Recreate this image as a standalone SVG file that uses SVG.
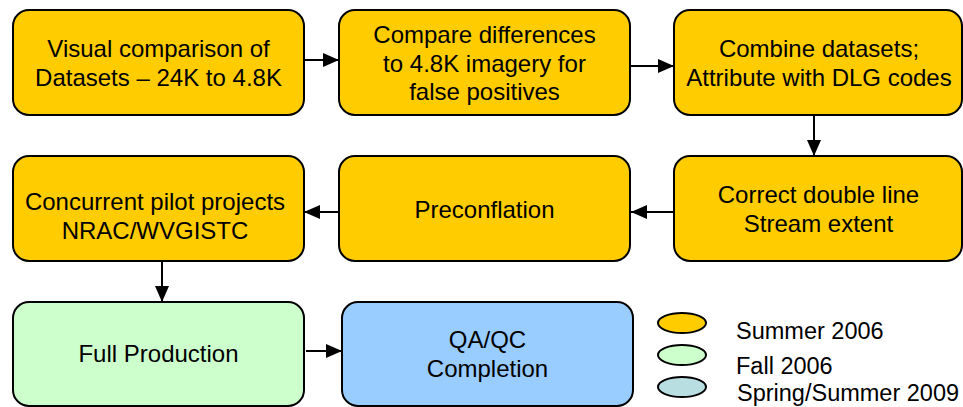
<svg xmlns="http://www.w3.org/2000/svg" width="963" height="407" viewBox="0 0 963 407">
<style>
.box{stroke:#000;stroke-width:2}
.o{fill:#FFCC00}
.g{fill:#CCFFCC}
.b{fill:#99CCFF}
.t{fill:#B8DEE2}
text{font-family:"Liberation Sans",Arial,sans-serif;font-size:24px;fill:#000}
.c{text-anchor:middle}
.lg{font-size:23.5px}
.edge{stroke:#000;stroke-width:2;fill:none;marker-end:url(#ah)}
</style>
<defs>
<marker id="ah" markerUnits="userSpaceOnUse" markerWidth="16" markerHeight="14" refX="16" refY="7" orient="auto">
<path d="M0,0 L16,7 L0,14 Z" fill="#000"/>
</marker>
</defs>
<rect width="963" height="407" fill="#fff"/>
<g id="connectors">
<line class="edge" x1="304" y1="60" x2="339" y2="60"/>
<line class="edge" x1="630" y1="66" x2="674" y2="66"/>
<line class="edge" x1="814" y1="115" x2="814" y2="156"/>
<line class="edge" x1="674" y1="212" x2="631" y2="212"/>
<line class="edge" x1="339" y1="212" x2="304" y2="212"/>
<line class="edge" x1="162" y1="261" x2="162" y2="302"/>
<line class="edge" x1="306" y1="351" x2="342" y2="351"/>
</g>
<g id="n1">
<rect class="box o" x="13" y="10" width="291" height="105" rx="16"/>
<text class="c" x="158.5" y="57">Visual comparison of</text>
<text class="c" x="158.5" y="86">Datasets – 24K to 4.8K</text>
</g>
<g id="n2">
<rect class="box o" x="339" y="10" width="291" height="105" rx="16"/>
<text class="c" x="484.5" y="43">Compare differences</text>
<text class="c" x="484.5" y="72">to 4.8K imagery for</text>
<text class="c" x="484.5" y="100">false positives</text>
</g>
<g id="n3">
<rect class="box o" x="674" y="10" width="288" height="105" rx="16"/>
<text class="c" x="819" y="57">Combine datasets;</text>
<text class="c" x="819" y="86">Attribute with DLG codes</text>
</g>
<g id="n4">
<rect class="box o" x="13" y="156" width="291" height="105" rx="16"/>
<text class="c" x="155" y="210">Concurrent pilot projects</text>
<text class="c" x="155" y="239">NRAC/WVGISTC</text>
</g>
<g id="n5">
<rect class="box o" x="339" y="156" width="291" height="105" rx="16"/>
<text class="c" x="484.5" y="218">Preconflation</text>
</g>
<g id="n6">
<rect class="box o" x="674" y="156" width="288" height="105" rx="16"/>
<text class="c" x="818.5" y="203">Correct double line</text>
<text class="c" x="818.5" y="232">Stream extent</text>
</g>
<g id="n7">
<rect class="box g" x="13" y="302" width="291" height="104" rx="16"/>
<text class="c" x="158.5" y="362">Full Production</text>
</g>
<g id="n8">
<rect class="box b" x="342" y="302" width="291" height="104" rx="16"/>
<text class="c" x="487.5" y="348">QA/QC</text>
<text class="c" x="487.5" y="377">Completion</text>
</g>
<g id="legend">
<ellipse class="box o" cx="682" cy="323" rx="24" ry="10"/>
<ellipse class="box g" cx="682" cy="355" rx="24" ry="10"/>
<ellipse class="box t" cx="682" cy="387" rx="24" ry="10"/>
<text class="lg" x="736" y="339">Summer 2006</text>
<text class="lg" x="736" y="374">Fall 2006</text>
<text class="lg" x="737" y="401">Spring/Summer 2009</text>
</g>
</svg>
